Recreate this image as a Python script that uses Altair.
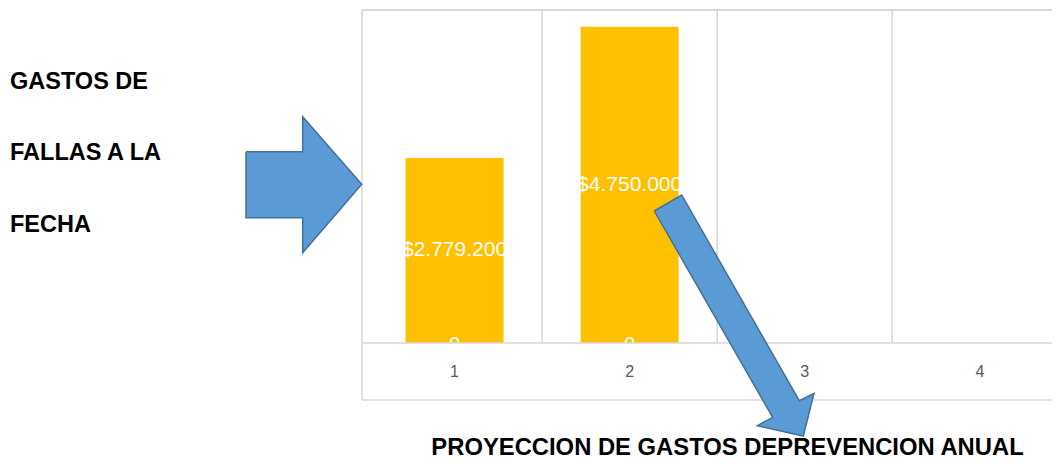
import altair as alt
import pandas as pd

# ---------------- data ----------------
categories = [1, 2, 3, 4]
gastos = [2779200, 4750000, None, None]
serie_cero = [0, 0, None, None]
left_lines = ["GASTOS DE", "FALLAS A LA", "FECHA"]
bottom_title = "PROYECCION DE GASTOS DEPREVENCION ANUAL"

# ---------------- layout (pixels relative to the plot area) ----------------
W, H = 690, 333
COL = 177.67
BOX_BOTTOM = 390
left_text_x = -352
left_text_y = [78.5, 150, 221.5]
title_x, title_y = 365.5, 444.5
cat_label_y = 366.5
left_arrow_x = [-116, -59.3, -59.3, -0.3, -59.3, -59.3, -116, -116]
left_arrow_y = [141.7, 141.7, 106.7, 174.3, 242.7, 207.7, 207.7, 141.7]
diag_arrow_x = [292.3, 319.7, 437.3, 452.0, 441.3, 395.3, 410.7, 292.3]
diag_arrow_y = [201.0, 185.0, 390.7, 383.3, 426.0, 415.7, 407.3, 201.0]

GRID = "#d9d9d9"
FONT = "Liberation Sans"

df = pd.DataFrame({"cat": categories, "gastos": gastos, "cero": serie_cero})
df["label"] = [("$" + f"{v:,.0f}".replace(",", ".")) if pd.notna(v) else "" for v in gastos]

x_scale = alt.Scale(domain=[0.5, 0.5 + W / COL], nice=False, zero=False)
y_scale = alt.Scale(domain=[0, 5000000], nice=False, zero=True)
X = alt.X("cat:Q", scale=x_scale, axis=None)

bars = alt.Chart(df).mark_bar(size=98, color="#ffc000").encode(
    x=X, y=alt.Y("gastos:Q", scale=y_scale, axis=None)
)

val_labels = (
    alt.Chart(df)
    .transform_filter("isValid(datum.gastos)")
    .transform_calculate(mid="datum.gastos / 2")
    .mark_text(color="white", fontSize=21, font=FONT, baseline="middle")
    .encode(x=X, y=alt.Y("mid:Q", scale=y_scale, axis=None), text="label:N")
)

zero_labels = (
    alt.Chart(df)
    .transform_filter("isValid(datum.cero)")
    .mark_text(color="white", fontSize=20, font=FONT, baseline="alphabetic", dy=8)
    .encode(x=X, y=alt.Y("cero:Q", scale=y_scale, axis=None), text=alt.Text("cero:Q", format="d"))
)

grid_df = pd.DataFrame({"b": [c + 0.5 for c in categories[:-1]]})
grid = alt.Chart(grid_df).mark_rule(color=GRID, strokeWidth=1.6).encode(
    x=alt.X("b:Q", scale=x_scale, axis=None), y=alt.value(0), y2=alt.value(H)
)

base_df = pd.DataFrame({"z": [0]})
baseline = alt.Chart(base_df).mark_rule(color=GRID, strokeWidth=1.6).encode(
    y=alt.Y("z:Q", scale=y_scale, axis=None), x=alt.value(0), x2=alt.value(W)
)

top_border = alt.Chart(base_df).mark_rule(color=GRID, strokeWidth=2).encode(
    x=alt.value(0), x2=alt.value(W), y=alt.value(0)
)
left_border = alt.Chart(base_df).mark_rule(color=GRID, strokeWidth=1.6).encode(
    x=alt.value(0), y=alt.value(0), y2=alt.value(BOX_BOTTOM)
)
bottom_border = alt.Chart(base_df).mark_rule(color=GRID, strokeWidth=1.6).encode(
    x=alt.value(0), x2=alt.value(W), y=alt.value(BOX_BOTTOM)
)

cat_labels = alt.Chart(df).mark_text(
    color="#595959", fontSize=16, font=FONT, baseline="alphabetic"
).encode(x=X, y=alt.value(cat_label_y), text=alt.Text("cat:Q", format="d"))

main = alt.layer(
    grid, bars, val_labels, zero_labels, baseline, top_border, left_border,
    bottom_border, cat_labels
)

arrow_df = pd.DataFrame({
    "arrow": ["left"] * len(left_arrow_x) + ["diag"] * len(diag_arrow_x),
    "i": list(range(len(left_arrow_x))) + list(range(len(diag_arrow_x))),
    "px": left_arrow_x + diag_arrow_x,
    "py": left_arrow_y + diag_arrow_y,
})
arrows = alt.Chart(arrow_df).mark_line(
    fill="#5b9bd5", stroke="#41719c", strokeWidth=1.5, interpolate="linear",
    strokeJoin="miter"
).encode(
    x=alt.X("px:Q", scale=None, axis=None),
    y=alt.Y("py:Q", scale=None, axis=None),
    detail="arrow:N",
    order=alt.Order("i:Q"),
)

texts = []
for t, yy in zip(left_lines, left_text_y):
    texts.append(
        alt.Chart(base_df).mark_text(
            text=t, align="left", baseline="alphabetic", fontSize=23.5,
            fontWeight="bold", font=FONT, color="black"
        ).encode(x=alt.value(left_text_x), y=alt.value(yy))
    )
texts.append(
    alt.Chart(base_df).mark_text(
        text=bottom_title, align="center", baseline="alphabetic", fontSize=23.8,
        fontWeight="bold", font=FONT, color="black"
    ).encode(x=alt.value(title_x), y=alt.value(title_y))
)

chart = alt.layer(main, arrows, *texts).resolve_scale(
    x="independent", y="independent"
).properties(
    width=W, height=H,
    autosize=alt.AutoSizeParams(type="none"),
    padding={"left": 354, "top": 2, "right": 0, "bottom": 113},
).configure_view(stroke=None)

chart.save("out.html", embed_options={"renderer": "svg", "actions": False})
